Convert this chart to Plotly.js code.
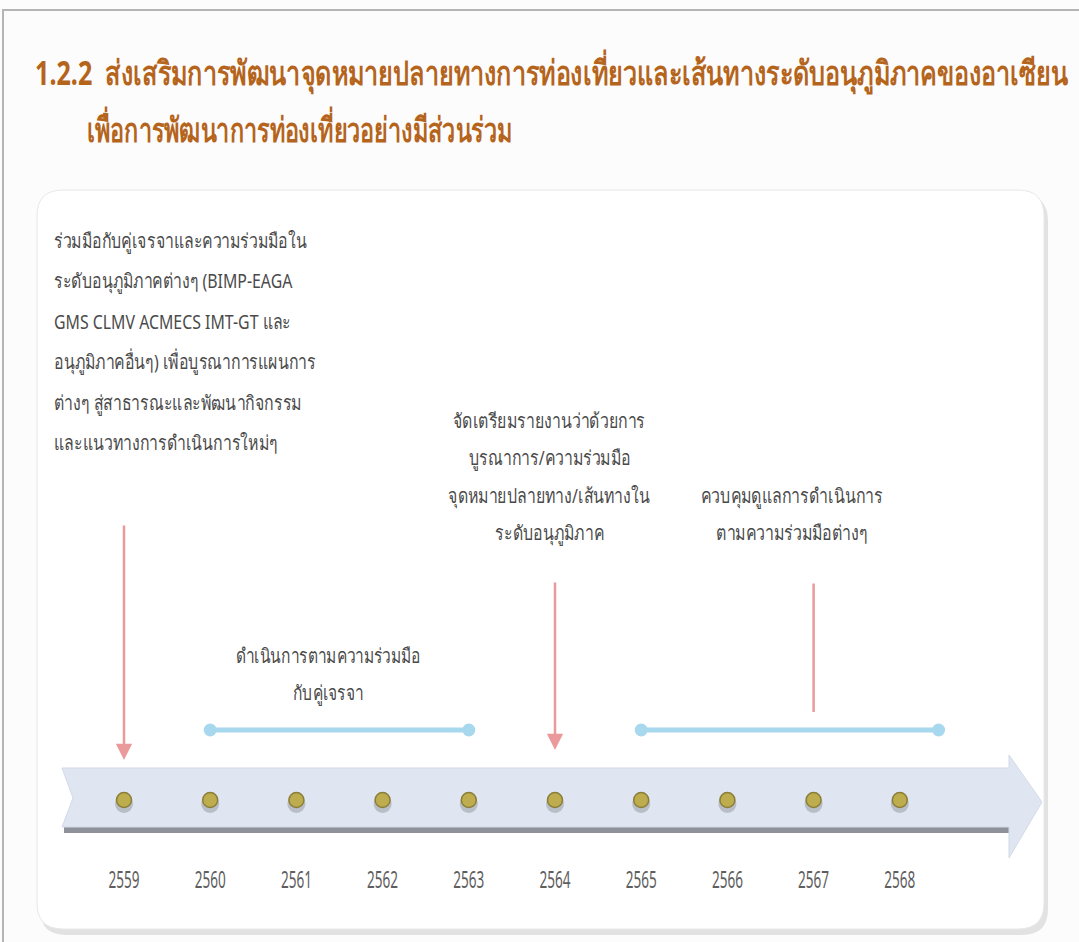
<!DOCTYPE html>
<html><head><meta charset="utf-8">
<script src="https://cdn.plot.ly/plotly-3.0.1.min.js"></script>
<style>html,body{margin:0;padding:0;background:#fcfcfc;}#chart{width:1079px;height:942px;}</style>
</head><body><div id="chart"></div>
<script>
// ---- data ----
const years = [2559, 2560, 2561, 2562, 2563, 2564, 2565, 2566, 2567, 2568];
const yearLabels = ["2559","2560","2561","2562","2563","2564","2565","2566","2567","2568"];
const spanStart = [2560, 2565];
const spanEnd = [2563, 2568.45];
const spanText = [["ดำเนินการตามความร่วมมือ", "กับคู่เจรจา"], []];
const pointerYears = [2559, 2564, 2567];
const pointerHasHead = [true, true, false];
const pointerText = [
  ["ร่วมมือกับคู่เจรจาและความร่วมมือใน", "ระดับอนุภูมิภาคต่างๆ (BIMP-EAGA", "GMS CLMV ACMECS IMT-GT และ", "อนุภูมิภาคอื่นๆ) เพื่อบูรณาการแผนการ", "ต่างๆ สู่สาธารณะและพัฒนากิจกรรม", "และแนวทางการดำเนินการใหม่ๆ"],
  ["จัดเตรียมรายงานว่าด้วยการ", "บูรณาการ/ความร่วมมือ", "จุดหมายปลายทาง/เส้นทางใน", "ระดับอนุภูมิภาค"],
  ["ควบคุมดูแลการดำเนินการ", "ตามความร่วมมือต่างๆ"]
];
const titleLine1 = "1.2.2  ส่งเสริมการพัฒนาจุดหมายปลายทางการท่องเที่ยวและเส้นทางระดับอนุภูมิภาคของอาเซียน";
const titleLine2 = "เพื่อการพัฒนาการท่องเที่ยวอย่างมีส่วนร่วม";

// ---- layout helpers ----
const W = 1079, H = 942;
const pxPerYear = 86.2;
const x0 = 2559 - 124 / pxPerYear;
const x1 = x0 + W / pxPerYear;
const X = px => x0 + px / pxPerYear;
const FONT = "Noto Sans, DejaVu Sans, sans-serif";
const TXT = "#4a4a4a";
const TITLE_COLOR = "#b5641c";

const traces = [];
spanStart.forEach((s, i) => {
  traces.push({
    x: [s, spanEnd[i]], y: [730, 730], mode: "lines+markers", type: "scatter",
    line: {color: "#a8d8ee", width: 5},
    marker: {color: "#a8d8ee", size: 13},
    hoverinfo: "skip", showlegend: false
  });
});
traces.push({
  x: years, y: years.map(() => 804), mode: "markers", type: "scatter",
  marker: {symbol: "circle", size: 18, color: "rgba(100,100,100,0.3)"},
  hoverinfo: "skip", showlegend: false
});
traces.push({
  x: years, y: years.map(() => 800), mode: "markers", type: "scatter",
  marker: {symbol: "circle", size: 15, color: "#bdad4e", line: {color: "#8b7e38", width: 1.5}},
  hoverinfo: "skip", showlegend: false
});
traces.push({
  x: years, y: years.map(() => 882), mode: "text", type: "scatter",
  text: yearLabels, textfont: {family: FONT, size: 24, color: "#5e5e5e"},
  hoverinfo: "skip", showlegend: false
});

const annotations = [];
const squeezeJobs = [];
// title line 2
annotations.push({
  xref: "paper", yref: "paper", x: 85 / W, y: 1 - 129 / H, xanchor: "left", yanchor: "middle",
  text: titleLine2, showarrow: false,
  font: {family: FONT, size: 34, weight: 700, color: TITLE_COLOR}
});
squeezeJobs.push({idx: 0, group: "t2", keep: "left", ref: 425});
// pointer arrows
const pointerTop = [524, 581, 582];
const pointerBottom = [760, 750, 712];
pointerYears.forEach((yr, i) => {
  annotations.push({
    x: yr, y: pointerBottom[i], ax: yr, ay: pointerTop[i],
    xref: "x", yref: "y", axref: "x", ayref: "y",
    showarrow: true, text: "", arrowhead: pointerHasHead[i] ? 2 : 0,
    arrowsize: 1.3, arrowwidth: 2.5, arrowcolor: "#eb9a9c", standoff: 0
  });
});
// pointer texts
const blockPos = [
  {x: X(52), anchor: "left", y0: 240, dy: 40.5, refLine: 0, refWidth: 253},
  {x: X(549), anchor: "center", y0: 420, dy: 37.5, refLine: 2, refWidth: 202},
  {x: X(792), anchor: "center", y0: 495, dy: 37.5, refLine: 0, refWidth: 182}
];
pointerText.forEach((lines, i) => {
  lines.forEach((ln, j) => {
    squeezeJobs.push({idx: annotations.length, group: "b" + i, keep: blockPos[i].anchor,
      ref: j === blockPos[i].refLine ? blockPos[i].refWidth : null});
    annotations.push({
      x: blockPos[i].x, y: blockPos[i].y0 + j * blockPos[i].dy, xref: "x", yref: "y",
      xanchor: blockPos[i].anchor, yanchor: "middle", showarrow: false,
      text: ln, font: {family: FONT, size: 20, color: TXT}
    });
  });
});
// span texts
spanText.forEach((lines, i) => {
  lines.forEach((ln, j) => {
    squeezeJobs.push({idx: annotations.length, group: "s" + i, keep: "center", ref: j === 0 ? 185 : null});
    annotations.push({
      x: X(328), y: 655 + j * 37, xref: "x", yref: "y",
      xanchor: "center", yanchor: "middle", showarrow: false,
      text: ln, font: {family: FONT, size: 20, color: TXT}
    });
  });
});

function roundRect(l, t, r, b, rad) {
  return `M ${X(l + rad)} ${t} L ${X(r - rad)} ${t} Q ${X(r)} ${t} ${X(r)} ${t + rad} L ${X(r)} ${b - rad} Q ${X(r)} ${b} ${X(r - rad)} ${b} L ${X(l + rad)} ${b} Q ${X(l)} ${b} ${X(l)} ${b - rad} L ${X(l)} ${t + rad} Q ${X(l)} ${t} ${X(l + rad)} ${t} Z`;
}
const shapes = [
  {type: "rect", xref: "paper", yref: "paper", x0: 3 / W, x1: 1.01, y0: -0.01, y1: 1 - 10 / H,
   line: {color: "#b5b5b5", width: 2}, fillcolor: "rgba(0,0,0,0)", layer: "below"},
  {type: "path", path: roundRect(40, 195, 1048, 935, 26), xref: "x", yref: "y",
   fillcolor: "#e2e2e2", line: {width: 0}, layer: "below"},
  {type: "path", path: roundRect(37, 190, 1044, 929, 26), xref: "x", yref: "y",
   fillcolor: "#ffffff", line: {color: "#e8e8e8", width: 1}, layer: "below"},
  {type: "path", path: `M ${X(64)} 825 L ${X(1010)} 825 L ${X(1010)} 833 L ${X(64)} 833 Z`, xref: "x", yref: "y",
   fillcolor: "#8e9199", line: {width: 0}, layer: "below"},
  {type: "path", path: `M ${X(62)} 768 L ${X(1009)} 768 L ${X(1009)} 755 L ${X(1042)} 802 L ${X(1009)} 858 L ${X(1009)} 827 L ${X(62)} 827 L ${X(73)} 798 Z`,
   xref: "x", yref: "y", fillcolor: "#dfe6f1", line: {color: "#d2dae7", width: 1}, layer: "below"}
];

const layout = {
  width: W, height: H,
  margin: {l: 0, r: 0, t: 0, b: 0},
  paper_bgcolor: "#fcfcfc", plot_bgcolor: "rgba(0,0,0,0)",
  title: {
    text: titleLine1, x: 35 / W, xanchor: "left", xref: "paper",
    y: 1 - 73 / H, yanchor: "middle", yref: "paper",
    font: {family: FONT, size: 34, weight: 700, color: TITLE_COLOR}
  },
  xaxis: {range: [x0, x1], visible: false, fixedrange: true},
  yaxis: {range: [H, 0], visible: false, fixedrange: true},
  showlegend: false,
  shapes: shapes,
  annotations: annotations
};

function squeeze(el, factor, keep) {
  const b0 = el.getBBox();
  const len = el.getComputedTextLength();
  el.setAttribute("textLength", (len * factor).toFixed(2));
  el.setAttribute("lengthAdjust", "spacingAndGlyphs");
  const b1 = el.getBBox();
  const d = keep === "left" ? b0.x - b1.x : (b0.x + b0.width / 2) - (b1.x + b1.width / 2);
  el.setAttribute("x", (parseFloat(el.getAttribute("x") || 0) + d).toFixed(2));
}

Plotly.newPlot("chart", traces, layout, {displayModeBar: false, staticPlot: true}).then(gd => {
  const annEl = i => gd.querySelector('.annotation[data-index="' + i + '"] .annotation-text');
  const t = gd.querySelector(".gtitle");
  if (t) squeeze(t, 1033 / t.getComputedTextLength(), "left");
  const factors = {};
  squeezeJobs.forEach(j => {
    if (j.ref) { const el = annEl(j.idx); if (el) factors[j.group] = j.ref / el.getComputedTextLength(); }
  });
  squeezeJobs.forEach(j => {
    const el = annEl(j.idx);
    if (el && factors[j.group]) squeeze(el, factors[j.group], j.keep);
  });
  gd.querySelectorAll(".textpoint text").forEach(el => {
    squeeze(el, 31 / el.getComputedTextLength(), "center");
  });
});
</script>
</body></html>
